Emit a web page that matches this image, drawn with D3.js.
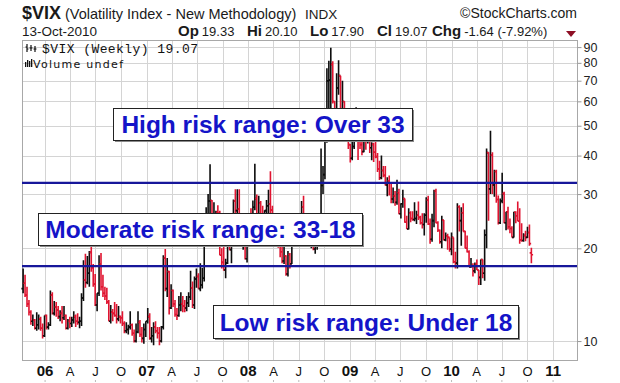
<!DOCTYPE html>
<html>
<head>
<meta charset="utf-8">
<script src="https://cdn.jsdelivr.net/npm/d3@7"></script>
<style>
  body { margin: 0; background: #fff; }
  svg { display: block; font-family: "Liberation Sans", Arial, sans-serif; }
</style>
</head>
<body>
<div id="chart"></div>
<script>
(function() {

// weekly $VIX bars, one row per week: open, high, low, close
var firstWeekEnd = new Date(2005, 9, 14);

var vix2005 = [
  [14.8,17.2,14.3,15.4],[15.4,16.4,13.9,14.1],[14.1,15.0,12.9,13.2],[13.2,13.6,12.1,12.4],
  [12.4,12.6,11.3,11.6],[11.6,12.2,11.2,11.7],[11.7,11.8,10.9,11.0],[11.0,12.4,10.8,11.3],
  [11.3,12.2,10.9,11.8],[11.8,12.0,10.8,11.0],[11.0,11.4,10.2,10.4],[10.4,12.1,10.3,12.1]
];
var vix2006 = [
  [12.1,12.2,10.9,11.1],[11.1,11.5,10.9,11.3],[11.3,14.6,11.2,14.1],[14.1,14.4,12.2,12.3],[12.3,13.5,12.1,12.9],
  [12.9,13.4,12.0,12.6],[12.6,13.0,11.8,12.0],[12.0,12.6,11.6,12.3],[12.3,13.0,11.4,11.9],
  [11.9,13.0,11.7,12.1],[12.1,12.2,10.9,11.0],[11.0,11.8,10.9,11.6],[11.6,12.0,11.0,11.4],
  [11.4,12.0,11.1,11.7],[11.7,12.5,11.4,12.0],[12.0,12.2,11.1,11.6],[11.6,12.3,11.3,11.5],
  [11.5,12.0,11.0,11.6],[11.6,14.3,11.2,13.8],[13.8,18.3,13.5,15.8],[15.8,19.2,14.9,15.5],[15.5,18.9,15.3,16.6],
  [16.6,19.6,15.0,19.4],[19.4,23.8,16.8,17.3],[17.3,17.8,15.0,15.3],[15.3,16.5,13.0,13.1],
  [13.1,14.3,12.5,14.3],[14.3,19.0,14.0,17.8],[17.8,19.3,14.6,15.0],[15.0,16.4,13.9,14.3],[14.3,15.0,13.6,14.0],
  [14.0,14.9,13.2,13.4],[13.4,13.6,11.6,11.6],[11.6,13.1,11.4,12.4],[12.4,12.7,11.6,12.3],
  [12.3,13.4,12.0,12.1],[12.1,13.2,11.4,11.8],[11.8,13.0,11.6,12.0],[12.0,12.1,11.4,11.9],
  [11.9,12.5,11.2,11.4],[11.4,11.6,10.6,10.8],[10.8,11.5,10.6,10.9],[10.9,11.3,10.5,11.1],[11.1,12.5,10.9,11.3],
  [11.3,11.4,10.4,10.6],[10.6,10.9,9.9,10.0],[10.0,11.4,9.9,10.7],[10.7,12.5,10.6,11.5],
  [11.5,11.7,10.3,10.5],[10.5,11.1,9.9,10.2],[10.2,11.4,9.8,10.9],[10.9,11.6,10.3,11.6]
];
var vix2007 = [
  [11.6,12.8,11.4,12.0],[12.0,12.3,10.1,10.2],[10.2,11.1,9.9,10.4],[10.4,11.5,9.7,11.1],[11.1,11.6,10.6,10.8],
  [10.8,11.1,10.2,10.6],[10.6,11.1,9.7,10.0],[10.0,11.2,9.9,11.1],[11.1,19.0,10.9,18.6],
  [18.6,19.9,14.5,14.8],[14.8,18.6,13.9,16.8],[16.8,16.9,12.2,12.8],[12.8,15.3,12.7,14.6],
  [14.6,14.7,12.9,13.2],[13.2,13.6,12.0,12.2],[12.2,12.8,11.7,12.1],[12.1,14.0,12.0,13.1],[13.1,14.4,12.5,13.2],
  [13.2,14.0,12.4,13.0],[13.0,13.6,12.4,12.8],[12.8,14.0,12.5,13.3],[13.3,14.4,12.9,13.9],
  [13.9,16.9,13.6,14.9],[14.9,15.6,12.8,13.1],[13.1,16.2,12.7,15.9],[15.9,17.2,14.9,16.2],
  [16.2,16.6,14.8,14.8],[14.8,17.9,14.5,15.2],[15.2,17.3,14.8,16.0],[16.0,25.3,15.6,24.2],[24.2,27.2,20.3,25.2],
  [25.2,30.0,21.6,28.5],[28.5,37.5,25.9,28.6],[28.6,28.7,22.3,22.5],[22.5,28.2,21.6,23.4],
  [23.4,26.5,22.9,26.2],[26.2,27.6,21.8,26.0],[26.0,26.5,19.0,19.0],[19.0,20.0,17.2,18.0],
  [18.0,20.5,16.9,17.0],[17.0,18.5,16.0,17.9],[17.9,22.9,17.8,22.4],[22.4,23.7,19.7,19.8],[19.8,24.5,17.9,23.0],
  [23.0,28.8,22.2,28.5],[28.5,31.1,23.8,26.5],[26.5,31.1,25.3,26.8],[26.8,31.1,22.6,22.9],
  [22.9,24.8,20.8,20.9],[20.9,24.3,19.8,22.6],[22.6,24.8,18.4,18.5],[18.5,20.9,18.0,20.7]
];
var vix2008 = [
  [20.7,23.9,20.5,23.9],[23.9,27.0,22.5,23.7],[23.7,28.6,22.0,27.2],[27.2,37.6,26.6,29.0],[29.0,29.9,24.0,24.0],
  [24.0,29.6,24.0,28.0],[28.0,28.5,24.3,25.0],[25.0,27.5,23.5,24.1],[24.1,26.6,21.9,26.5],
  [26.5,28.7,24.8,27.5],[27.5,31.0,25.0,27.9],[27.9,35.6,25.8,26.6],[26.6,27.5,24.4,25.7],[25.7,26.0,22.4,22.5],
  [22.5,23.8,20.7,23.5],[23.5,24.3,20.1,20.4],[20.4,21.3,18.7,19.5],[19.5,20.8,17.9,18.2],
  [18.2,21.0,17.8,18.9],[18.9,19.0,16.3,16.5],[16.5,19.6,16.2,19.1],[19.1,19.3,17.2,17.8],
  [17.8,24.0,17.8,23.6],[23.6,24.1,20.6,21.3],[21.3,23.0,20.7,22.6],[22.6,24.2,21.8,22.7],[22.7,25.6,22.3,25.0],
  [25.0,28.5,23.0,27.3],[27.3,29.6,22.5,22.9],[22.9,24.0,21.3,22.6],[22.6,24.1,21.7,22.9],
  [22.9,24.0,20.3,20.7],[20.7,22.5,20.0,20.9],[20.9,22.2,19.7,19.9],[19.9,21.8,19.2,20.7],
  [20.7,24.4,19.8,23.1],[23.1,26.0,22.4,25.7],[25.7,42.2,25.3,32.0],[32.0,37.0,30.0,34.7],[34.7,48.4,33.5,45.1],
  [45.1,76.9,44.0,70.0],[70.0,81.2,51.6,70.3],[70.3,89.5,52.0,79.1],[79.1,81.0,59.0,59.9],
  [59.9,60.0,47.4,56.1],[56.1,74.0,56.0,66.3],[66.3,81.5,63.0,72.7],[72.7,72.7,51.9,55.3],
  [55.3,70.0,55.0,59.9],[59.9,60.0,51.0,54.3],[54.3,55.0,44.4,44.9],[44.9,47.0,42.0,43.4],[43.4,43.6,38.0,39.2]
];
var vix2009 = [
  [39.2,45.0,38.6,42.8],[42.8,52.0,42.0,46.1],[46.1,57.4,45.0,47.3],[47.3,48.0,38.7,45.0],
  [45.0,46.9,42.0,43.4],[43.4,48.3,40.1,41.2],[41.2,50.8,41.0,50.0],[50.0,52.6,41.8,46.4],
  [46.4,53.2,43.8,49.3],[49.3,50.1,40.8,42.4],[42.4,44.2,38.6,43.5],[43.5,44.0,38.1,41.0],[41.0,45.5,39.2,39.7],
  [39.7,40.8,35.4,36.2],[36.2,38.5,33.3,33.9],[33.9,40.0,33.5,35.8],[35.8,37.0,34.0,34.5],
  [34.5,37.0,32.0,32.1],[32.1,34.0,29.5,33.1],[33.1,34.5,29.7,32.6],[32.6,32.8,28.0,28.9],
  [28.9,31.5,28.0,29.6],[29.6,30.7,27.5,28.2],[28.2,33.4,27.7,30.3],[30.3,31.2,25.8,25.9],[25.9,28.0,25.0,27.9],
  [27.9,31.0,27.1,29.0],[29.0,29.0,24.2,24.3],[24.3,25.5,23.1,23.1],[23.1,27.0,23.0,26.0],
  [26.0,26.4,24.3,25.0],[25.0,26.4,24.6,24.8],[24.8,28.2,24.5,25.0],[25.0,26.5,24.0,25.6],[25.6,28.4,24.7,25.2],
  [25.2,25.5,23.9,24.2],[24.2,26.0,23.2,23.9],[23.9,26.0,22.0,25.6],[25.6,29.3,24.2,28.7],
  [28.7,29.6,23.8,24.0],[24.0,25.0,20.7,21.4],[21.4,25.9,21.0,24.6],[24.6,31.0,23.4,30.7],
  [30.7,31.2,24.1,24.2],[24.2,24.5,22.6,22.9],[22.9,23.0,20.7,21.0],[21.0,25.5,20.0,24.7],[24.7,24.7,21.2,21.3],
  [21.3,22.5,21.1,21.9],[21.9,22.3,19.8,21.7],[21.7,21.7,19.5,19.9],[19.9,22.5,19.0,21.7]
];
var vix2010 = [
  [21.7,21.7,17.9,18.1],[18.1,19.5,17.2,17.9],[17.9,28.0,17.2,27.3],[27.3,27.6,22.7,24.6],
  [24.6,27.2,20.4,26.1],[26.1,28.0,22.7,22.7],[22.7,22.8,20.0,20.0],[20.0,22.0,19.4,19.5],
  [19.5,19.7,17.4,17.4],[17.4,18.6,17.3,17.6],[17.6,17.9,16.2,16.9],[16.9,18.0,16.6,17.8],[17.8,18.4,17.0,17.0],
  [17.0,17.0,15.2,16.1],[16.1,18.4,15.2,18.4],[18.4,18.4,16.0,16.6],[16.6,23.0,15.7,22.1],
  [22.1,42.2,20.0,40.9],[40.9,41.0,24.6,31.2],[31.2,48.2,30.0,40.1],[40.1,41.0,30.0,32.1],[32.1,36.0,29.4,35.5],
  [35.5,36.0,28.1,28.8],[28.8,29.7,23.9,24.2],[24.2,29.0,24.0,28.5],[28.5,35.2,28.0,30.1],
  [30.1,30.5,24.1,24.2],[24.2,26.3,22.9,26.3],[26.3,27.3,23.0,23.5],[23.5,25.0,22.4,23.2],
  [23.2,23.6,21.7,21.7],[21.7,26.3,21.7,26.2],[26.2,26.4,24.1,25.5],[25.5,28.4,24.5,24.5],[24.5,27.0,20.7,21.3],
  [21.3,24.1,21.0,21.2],[21.2,22.4,21.0,22.0],[22.0,22.8,21.1,21.7],[21.7,23.5,21.6,22.5],
  [22.5,23.9,20.4,20.71],[19.33,20.10,17.90,19.07]
];

var yTicks = [10, 20, 30, 40, 50, 60, 70, 80, 90];
var monthLetters = {3: "A", 6: "J", 9: "O"};

// risk bands drawn across the chart
var riskLines = [32.6, 17.5];
var riskNotes = ["High risk range: Over 33", "Moderate risk range: 33-18", "Low risk range: Under 18"];

var quote = [["Op", "19.33"], ["Hi", "20.10"], ["Lo", "17.90"], ["Cl", "19.07"], ["Chg", "-1.64 (-7.92%)"]];

var W = 620, H = 383;
var plot = {left: 22, right: 577, top: 40, bottom: 360};

var x = d3.scaleTime()
    .domain([new Date(2005, 9, 10), new Date(2011, 2, 28)])
    .range([plot.left, plot.right]);

var y = d3.scaleLog()
    .domain([8.68, 94.9])
    .range([plot.bottom, plot.top]);

var rows = [].concat(vix2005, vix2006, vix2007, vix2008, vix2009, vix2010);
var weeks = rows.map(function(r, i) {
  return {date: d3.timeDay.offset(firstWeekEnd, 7 * i), open: r[0], high: r[1], low: r[2], close: r[3],
          up: i === 0 ? true : r[3] >= rows[i - 1][3]};
});

var svg = d3.select("#chart").append("svg")
    .attr("width", W)
    .attr("height", H);

svg.append("rect").attr("width", W).attr("height", H).attr("fill", "#fff");

// grid
var quarters = d3.timeMonth.every(3).range(x.domain()[0], x.domain()[1]);

svg.append("g").selectAll("line")
    .data(quarters)
  .enter().append("line")
    .attr("x1", function(d) { return Math.round(x(d)) + 0.5; })
    .attr("x2", function(d) { return Math.round(x(d)) + 0.5; })
    .attr("y1", plot.top)
    .attr("y2", plot.bottom)
    .attr("stroke", "#d4d4d4");

svg.append("g").selectAll("line")
    .data(yTicks)
  .enter().append("line")
    .attr("x1", plot.left)
    .attr("x2", plot.right)
    .attr("y1", function(d) { return Math.round(y(d)) + 0.5; })
    .attr("y2", function(d) { return Math.round(y(d)) + 0.5; })
    .attr("stroke", "#d4d4d4");

// plot frame
svg.append("rect")
    .attr("x", plot.left + 0.5)
    .attr("y", plot.top + 0.5)
    .attr("width", plot.right - plot.left)
    .attr("height", plot.bottom - plot.top)
    .attr("fill", "none")
    .attr("stroke", "#a8a8a8");

// weekly OHLC bars
svg.append("g").selectAll("path")
    .data(weeks)
  .enter().append("path")
    .attr("d", function(d) {
      var cx = x(d.date);
      return "M" + cx + "," + y(d.low) + "V" + y(d.high) +
             "M" + (cx - 1.7) + "," + y(d.open) + "H" + cx +
             "M" + cx + "," + y(d.close) + "H" + (cx + 1.7);
    })
    .attr("fill", "none")
    .attr("stroke", function(d) { return d.up ? "#0d0d0d" : "#e01430"; })
    .attr("stroke-width", 1.6);

// risk lines
svg.append("g").selectAll("line")
    .data(riskLines)
  .enter().append("line")
    .attr("x1", plot.left)
    .attr("x2", plot.right)
    .attr("y1", function(d) { return y(d); })
    .attr("y2", function(d) { return y(d); })
    .attr("stroke", "#17179a")
    .attr("stroke-width", 2.2);

// right axis
var yAxis = svg.append("g")
    .attr("transform", "translate(" + (plot.right + 0.5) + ",0)")
    .call(d3.axisRight(y).tickValues(yTicks).tickSize(4).tickPadding(2).tickFormat(d3.format("d")));
yAxis.select(".domain").remove();
yAxis.selectAll(".tick line").attr("stroke", "#999");
yAxis.selectAll(".tick text")
    .attr("fill", "#222")
    .style("font-size", "12.5px")
    .style("font-family", "'Liberation Sans', Arial, sans-serif");

// bottom labels
var xLab = svg.append("g").selectAll("g")
    .data(quarters)
  .enter().append("g")
    .attr("transform", function(d) { return "translate(" + x(d) + ",0)"; });

xLab.append("text")
    .attr("y", 376)
    .attr("text-anchor", "middle")
    .attr("fill", "#111")
    .style("font-size", function(d) { return d.getMonth() === 0 ? "15px" : "13px"; })
    .style("font-weight", function(d) { return d.getMonth() === 0 ? "bold" : "normal"; })
    .text(function(d) { return d.getMonth() === 0 ? d3.timeFormat("%y")(d) : monthLetters[d.getMonth()]; });

xLab.append("rect")
    .attr("x", -0.5)
    .attr("y", 380)
    .attr("width", 1)
    .attr("height", 2)
    .attr("fill", "#bbb");

// header
var head = svg.append("g").attr("fill", "#1a1a1a");

head.append("text").attr("x", 22).attr("y", 19)
    .style("font-size", "18px").style("font-weight", "bold").text("$VIX");
head.append("text").attr("x", 65).attr("y", 19)
    .style("font-size", "14.5px").text("(Volatility Index - New Methodology)");
head.append("text").attr("x", 305).attr("y", 19)
    .style("font-size", "13.5px").text("INDX");
head.append("text").attr("x", 577).attr("y", 18).attr("text-anchor", "end")
    .style("font-size", "14px").text("\u00a9StockCharts.com");
head.append("text").attr("x", 22).attr("y", 36)
    .style("font-size", "13.5px").text("13-Oct-2010");

var quoteX = [178, 247, 310, 377, 432];
quote.forEach(function(q, i) {
  var t = head.append("text").attr("x", quoteX[i]).attr("y", 36);
  t.append("tspan").style("font-size", "15px").style("font-weight", "bold").text(q[0]);
  t.append("tspan").attr("dx", 3).style("font-size", "13px").text(q[1]);
});

head.append("path")
    .attr("d", "M566,31H576L571,37Z")
    .attr("fill", "#8e0f25");

// legend
var leg = svg.append("g");
[27, 31, 35].forEach(function(px, i) {
  leg.append("path")
      .attr("d", "M" + px + "," + (44 + i) + "V" + (52 - i % 2) + "M" + (px - 1.5) + "," + (47 + i) + "H" + px + "M" + px + "," + (49 - i % 2) + "H" + (px + 1.5))
      .attr("stroke", "#111").attr("stroke-width", 1.2).attr("fill", "none");
});
leg.append("text").attr("x", 42).attr("y", 53)
    .attr("fill", "#111")
    .attr("textLength", 156)
    .style("font-family", "'Liberation Mono', 'DejaVu Sans Mono', monospace")
    .style("font-size", "13px")
    .text("$VIX (Weekly) 19.07");

[[25, 62], [27, 60], [29, 61], [31, 59]].forEach(function(b) {
  leg.append("rect").attr("x", b[0]).attr("y", b[1]).attr("width", 1.3).attr("height", 67 - b[1]).attr("fill", "#111");
});
leg.append("text").attr("x", 33).attr("y", 67.5)
    .attr("fill", "#111")
    .attr("textLength", 90)
    .style("font-family", "'DejaVu Sans', Verdana, sans-serif")
    .style("font-size", "11px")
    .text("Volume undef");

// annotation boxes
var noteBoxes = [
  {x: 113, y: 108, w: 299, h: 32},
  {x: 38, y: 213, w: 324, h: 32},
  {x: 213, y: 305, w: 305, h: 33}
];

var notes = svg.append("g").selectAll("g")
    .data(riskNotes)
  .enter().append("g");

notes.append("rect")
    .attr("x", function(d, i) { return noteBoxes[i].x + 2; })
    .attr("y", function(d, i) { return noteBoxes[i].y + 2; })
    .attr("width", function(d, i) { return noteBoxes[i].w; })
    .attr("height", function(d, i) { return noteBoxes[i].h; })
    .attr("fill", "#8a8a8a");

notes.append("rect")
    .attr("x", function(d, i) { return noteBoxes[i].x + 0.5; })
    .attr("y", function(d, i) { return noteBoxes[i].y + 0.5; })
    .attr("width", function(d, i) { return noteBoxes[i].w; })
    .attr("height", function(d, i) { return noteBoxes[i].h; })
    .attr("fill", "#fff")
    .attr("stroke", "#222");

notes.append("text")
    .attr("x", function(d, i) { return noteBoxes[i].x + noteBoxes[i].w / 2 + 0.5; })
    .attr("y", function(d, i) { return noteBoxes[i].y + noteBoxes[i].h / 2 + 9; })
    .attr("text-anchor", "middle")
    .attr("fill", "#1414c8")
    .style("font-size", "24.5px")
    .style("font-weight", "bold")
    .text(function(d) { return d; });

})();
</script>
</body>
</html>
